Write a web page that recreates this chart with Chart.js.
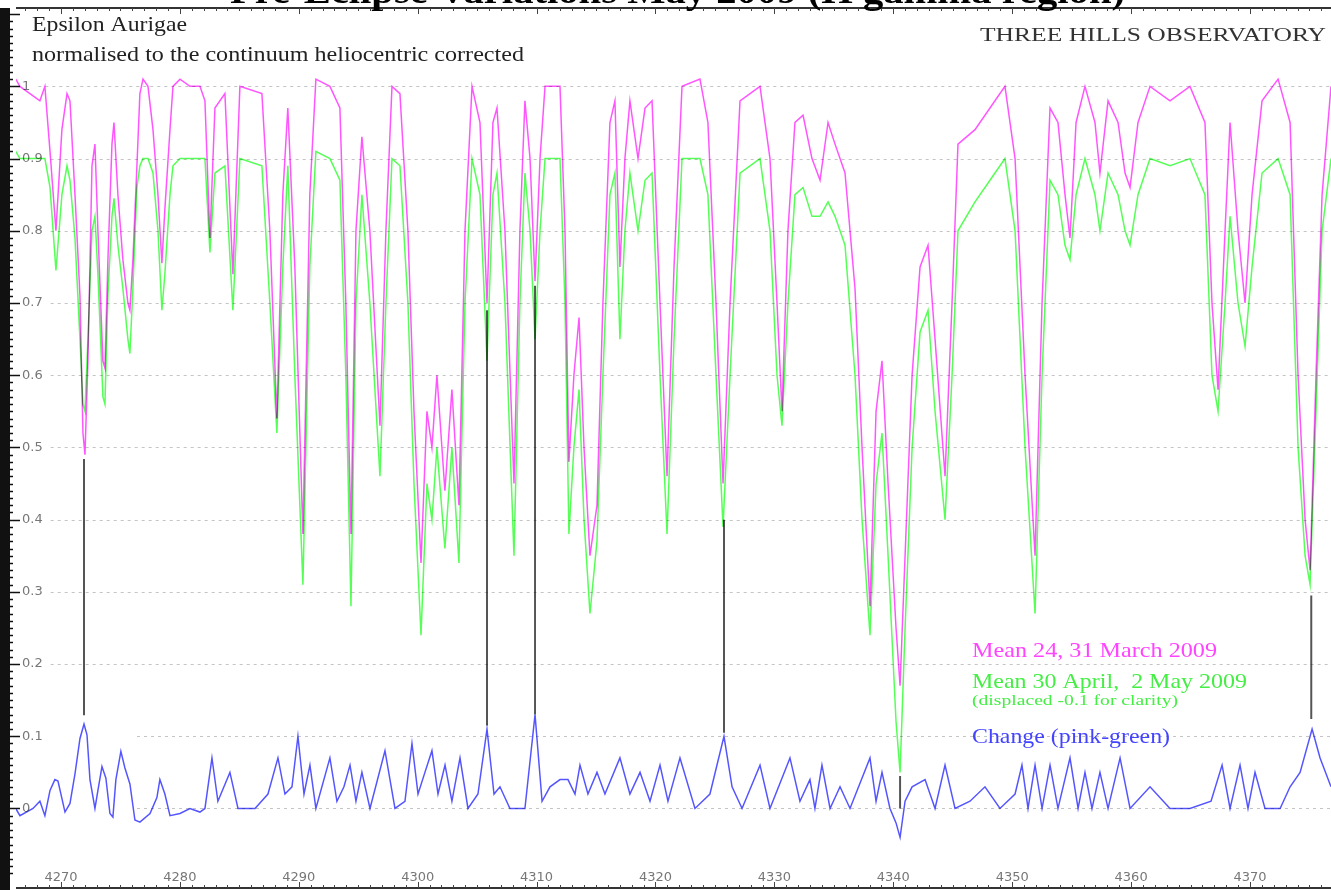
<!DOCTYPE html>
<html>
<head>
<meta charset="utf-8">
<title>Epsilon Aurigae H gamma</title>
<script src="https://cdn.jsdelivr.net/npm/chart.js@4.4.0/dist/chart.umd.min.js"></script>
<style>
  html, body { margin: 0; padding: 0; background: #fff; overflow: hidden; }
  #wrap { width: 1331px; height: 890px; position: relative; }
</style>
</head>
<body>
<div id="wrap"><canvas id="myChart"></canvas></div>
<script>
// ---- data ----
var titleText = 'Pre-Eclipse Variations May 2009 (H gamma region)';
var xTickValues = [4270, 4280, 4290, 4300, 4310, 4320, 4330, 4340, 4350, 4360, 4370];
var yTickValues = [0, 0.1, 0.2, 0.3, 0.4, 0.5, 0.6, 0.7, 0.8, 0.9, 1];

// [wavelength, flux] mean 24, 31 March 2009
var pinkPoints = [
  [4266.2,1.01],[4266.55,1.0],[4268.23,0.98],[4268.65,1.0],[4269.08,0.91],[4269.58,0.80],[4270.08,0.94],[4270.51,0.99],
  [4270.76,0.98],[4271.18,0.85],[4271.60,0.71],[4271.85,0.52],[4272.02,0.49],[4272.27,0.62],[4272.61,0.89],[4272.86,0.92],
  [4273.11,0.80],[4273.53,0.62],[4273.70,0.61],[4273.95,0.76],[4274.29,0.92],[4274.46,0.95],[4274.79,0.85],[4275.21,0.76],
  [4275.63,0.70],[4275.80,0.69],[4276.05,0.76],[4276.39,0.89],[4276.64,0.99],[4276.90,1.01],[4277.32,1.0],[4277.74,0.94],
  [4278.16,0.85],[4278.49,0.755],[4278.74,0.83],[4279.17,0.94],[4279.42,1.0],[4280.01,1.01],[4280.85,1.0],[4281.69,1.0],
  [4282.11,0.98],[4282.53,0.79],[4282.95,0.97],[4283.79,0.99],[4284.46,0.74],[4285.05,1.0],[4286.90,0.99],[4287.57,0.8],
  [4288.16,0.54],[4288.66,0.85],[4289.08,0.97],[4289.67,0.75],[4290.35,0.38],[4290.93,0.85],[4291.44,1.01],[4292.62,1.0],
  [4293.46,0.97],[4293.96,0.7],[4294.39,0.38],[4294.81,0.8],[4295.31,0.93],[4295.98,0.8],[4296.83,0.53],[4297.33,0.8],
  [4297.84,1.0],[4298.51,0.99],[4299.18,0.8],[4299.69,0.55],[4300.28,0.34],[4300.78,0.55],[4301.20,0.5],[4301.62,0.6],
  [4302.29,0.44],[4302.88,0.58],[4303.47,0.42],[4303.98,0.8],[4304.57,1.0],[4305.24,0.95],[4305.83,0.70],[4306.33,0.95],
  [4306.67,0.97],[4307.34,0.8],[4308.10,0.45],[4308.60,0.8],[4309.02,0.98],[4309.45,0.9],[4309.87,0.73],[4310.29,0.9],
  [4310.71,1.0],[4311.97,1.0],[4312.39,0.8],[4312.72,0.48],[4313.14,0.6],[4313.57,0.68],[4313.99,0.5],[4314.49,0.35],
  [4315.08,0.42],[4315.58,0.7],[4316.17,0.95],[4316.59,0.98],[4317.01,0.75],[4317.43,0.9],[4317.85,0.98],[4318.53,0.9],
  [4319.12,0.97],[4319.71,0.98],[4320.38,0.7],[4320.97,0.46],[4321.56,0.75],[4322.23,1.0],[4323.74,1.01],[4324.41,0.95],
  [4325.09,0.7],[4325.68,0.45],[4326.27,0.7],[4327.11,0.98],[4328.79,1.0],[4329.63,0.9],[4330.22,0.7],[4330.64,0.55],
  [4331.14,0.8],[4331.73,0.95],[4332.41,0.96],[4333.16,0.9],[4333.84,0.87],[4334.51,0.95],[4335.10,0.92],[4335.94,0.88],
  [4336.78,0.72],[4337.37,0.5],[4338.04,0.28],[4338.55,0.55],[4339.05,0.62],[4339.56,0.45],[4340.23,0.25],[4340.57,0.17],
  [4340.99,0.35],[4341.58,0.6],[4342.25,0.75],[4342.92,0.78],[4343.51,0.65],[4344.35,0.46],[4344.94,0.7],[4345.44,0.92],
  [4346.87,0.94],[4348.13,0.97],[4349.39,1.0],[4350.24,0.9],[4351.08,0.6],[4351.92,0.35],[4352.51,0.7],[4353.18,0.97],
  [4353.85,0.95],[4354.44,0.85],[4354.86,0.79],[4355.37,0.95],[4356.12,1.0],[4356.96,0.95],[4357.38,0.88],[4358.06,0.98],
  [4358.90,0.95],[4359.49,0.88],[4359.91,0.86],[4360.58,0.95],[4361.59,1.0],[4363.27,0.98],[4364.95,1.0],[4366.21,0.95],
  [4366.80,0.7],[4367.31,0.58],[4367.90,0.8],[4368.32,0.95],[4368.99,0.8],[4369.58,0.7],[4370.17,0.85],[4371.01,0.98],
  [4372.36,1.01],[4373.37,0.95],[4374.04,0.6],[4374.63,0.4],[4375.05,0.33],[4375.55,0.6],[4376.06,0.85],[4376.81,1.0]
];

// [wavelength, flux] mean 30 April, 2 May 2009 (already displaced -0.1 in the plot)
var greenPoints = [
  [4266.2,0.91],[4266.55,0.90],[4268.23,0.90],[4268.65,0.90],[4269.08,0.86],[4269.58,0.745],[4270.08,0.85],[4270.51,0.89],
  [4270.76,0.87],[4271.18,0.79],[4271.60,0.65],[4271.85,0.56],[4272.02,0.55],[4272.27,0.65],[4272.61,0.80],[4272.86,0.82],
  [4273.11,0.74],[4273.53,0.57],[4273.70,0.56],[4273.95,0.71],[4274.29,0.82],[4274.46,0.845],[4274.79,0.78],[4275.21,0.72],
  [4275.63,0.65],[4275.80,0.63],[4276.05,0.72],[4276.39,0.86],[4276.64,0.89],[4276.90,0.90],[4277.32,0.90],[4277.74,0.88],
  [4278.16,0.80],[4278.49,0.69],[4278.74,0.74],[4279.17,0.85],[4279.42,0.89],[4280.01,0.90],[4280.85,0.90],[4281.69,0.90],
  [4282.11,0.9],[4282.53,0.77],[4282.95,0.88],[4283.79,0.89],[4284.46,0.69],[4285.05,0.9],[4286.90,0.89],[4287.57,0.7],
  [4288.16,0.52],[4288.66,0.75],[4289.08,0.89],[4289.67,0.6],[4290.35,0.31],[4290.93,0.75],[4291.44,0.91],[4292.62,0.9],
  [4293.46,0.87],[4293.96,0.6],[4294.39,0.28],[4294.81,0.7],[4295.31,0.85],[4295.98,0.7],[4296.83,0.46],[4297.33,0.7],
  [4297.84,0.9],[4298.51,0.89],[4299.18,0.7],[4299.69,0.45],[4300.28,0.24],[4300.78,0.45],[4301.20,0.4],[4301.62,0.5],
  [4302.29,0.36],[4302.88,0.5],[4303.47,0.34],[4303.98,0.7],[4304.57,0.9],[4305.24,0.85],[4305.83,0.62],[4306.33,0.85],
  [4306.67,0.88],[4307.34,0.7],[4308.10,0.35],[4308.60,0.7],[4309.02,0.88],[4309.45,0.8],[4309.87,0.65],[4310.29,0.8],
  [4310.71,0.9],[4311.97,0.9],[4312.39,0.7],[4312.72,0.38],[4313.14,0.5],[4313.57,0.58],[4313.99,0.4],[4314.49,0.27],
  [4315.08,0.37],[4315.58,0.6],[4316.17,0.85],[4316.59,0.88],[4317.01,0.65],[4317.43,0.8],[4317.85,0.88],[4318.53,0.8],
  [4319.12,0.87],[4319.71,0.88],[4320.38,0.6],[4320.97,0.38],[4321.56,0.65],[4322.23,0.9],[4323.74,0.9],[4324.41,0.85],
  [4325.09,0.6],[4325.68,0.39],[4326.27,0.6],[4327.11,0.88],[4328.79,0.9],[4329.63,0.8],[4330.22,0.6],[4330.64,0.53],
  [4331.14,0.7],[4331.73,0.85],[4332.41,0.86],[4333.16,0.82],[4333.84,0.82],[4334.51,0.84],[4335.10,0.82],[4335.94,0.78],
  [4336.78,0.6],[4337.37,0.4],[4338.04,0.24],[4338.55,0.45],[4339.05,0.52],[4339.56,0.35],[4340.23,0.12],[4340.57,0.05],
  [4340.99,0.25],[4341.58,0.5],[4342.25,0.66],[4342.92,0.69],[4343.51,0.55],[4344.35,0.40],[4344.94,0.6],[4345.44,0.8],
  [4346.87,0.84],[4348.13,0.87],[4349.39,0.9],[4350.24,0.8],[4351.08,0.5],[4351.92,0.27],[4352.51,0.6],[4353.18,0.87],
  [4353.85,0.85],[4354.44,0.78],[4354.86,0.76],[4355.37,0.85],[4356.12,0.9],[4356.96,0.85],[4357.38,0.8],[4358.06,0.88],
  [4358.90,0.85],[4359.49,0.8],[4359.91,0.78],[4360.58,0.85],[4361.59,0.9],[4363.27,0.89],[4364.95,0.9],[4366.21,0.85],
  [4366.80,0.6],[4367.31,0.55],[4367.90,0.7],[4368.32,0.82],[4368.99,0.7],[4369.58,0.64],[4370.17,0.75],[4371.01,0.88],
  [4372.36,0.9],[4373.37,0.85],[4374.04,0.5],[4374.63,0.35],[4375.05,0.31],[4375.55,0.55],[4376.06,0.8],[4376.81,0.9]
];

// [wavelength, change] pink minus green
var changePoints = [
  [4266.2,0.0],[4266.55,-0.01],[4267.65,0.0],[4268.23,0.01],[4268.65,-0.01],[4269.08,0.025],[4269.49,0.04],[4269.75,0.038],
  [4270.34,-0.005],[4270.76,0.007],[4271.18,0.048],[4271.60,0.097],[4271.94,0.117],[4272.19,0.102],[4272.44,0.04],[4272.86,0.0],
  [4273.11,0.025],[4273.45,0.058],[4273.78,0.042],[4274.12,-0.007],[4274.37,-0.012],[4274.62,0.04],[4275.04,0.079],[4275.38,0.056],
  [4275.80,0.034],[4276.22,-0.016],[4276.64,-0.019],[4277.49,-0.007],[4278.07,0.015],[4278.32,0.04],[4278.74,0.02],[4279.17,-0.01],
  [4280.01,-0.007],[4280.85,0.0],[4281.69,-0.005],[4282.11,0.0],[4282.70,0.07],[4283.20,0.01],[4284.21,0.05],[4284.89,0.0],
  [4286.32,0.0],[4287.41,0.02],[4288.25,0.07],[4288.84,0.02],[4289.43,0.03],[4289.93,0.10],[4290.44,0.02],[4290.94,0.06],
  [4291.44,0.0],[4292.62,0.07],[4293.21,0.01],[4293.80,0.03],[4294.31,0.06],[4294.81,0.01],[4295.31,0.05],[4295.99,0.0],
  [4297.25,0.08],[4298.09,0.0],[4298.93,0.01],[4299.52,0.09],[4300.03,0.02],[4300.61,0.05],[4301.20,0.08],[4301.71,0.02],
  [4302.30,0.06],[4302.88,0.01],[4303.56,0.07],[4304.23,0.0],[4305.07,0.02],[4305.83,0.11],[4306.42,0.02],[4306.92,0.03],
  [4307.76,0.0],[4309.02,0.0],[4309.87,0.13],[4310.46,0.01],[4311.13,0.03],[4311.97,0.04],[4312.64,0.04],[4313.23,0.02],
  [4313.65,0.06],[4314.32,0.02],[4315.08,0.05],[4315.75,0.02],[4317.01,0.07],[4317.85,0.02],[4318.70,0.05],[4319.54,0.01],
  [4320.38,0.06],[4321.05,0.01],[4322.06,0.07],[4323.32,0.0],[4324.58,0.02],[4325.76,0.10],[4326.44,0.03],[4327.28,0.0],
  [4328.79,0.06],[4329.63,0.0],[4331.31,0.07],[4332.15,0.01],[4332.99,0.04],[4333.41,0.0],[4334.00,0.06],[4334.68,0.0],
  [4335.52,0.03],[4336.36,0.0],[4338.04,0.07],[4338.55,0.01],[4339.05,0.05],[4339.72,0.0],[4340.23,-0.02],[4340.57,-0.04],
  [4340.99,0.01],[4341.58,0.03],[4342.67,0.04],[4343.51,0.0],[4344.35,0.06],[4345.19,0.0],[4346.45,0.01],[4347.71,0.03],
  [4348.97,0.0],[4350.24,0.02],[4350.82,0.06],[4351.33,0.0],[4351.92,0.06],[4352.51,0.0],[4353.18,0.06],[4353.85,0.0],
  [4354.86,0.07],[4355.54,0.0],[4356.12,0.05],[4356.71,0.0],[4357.38,0.05],[4358.06,0.0],[4359.07,0.07],[4359.91,0.0],
  [4361.59,0.03],[4363.27,0.0],[4364.95,0.0],[4366.72,0.01],[4367.65,0.06],[4368.32,0.0],[4369.16,0.06],[4369.83,0.0],
  [4370.42,0.05],[4371.26,0.0],[4372.53,0.0],[4373.37,0.03],[4374.21,0.05],[4375.22,0.11],[4375.89,0.07],[4376.81,0.03]
];

// tie lines from a line in the spectra down to its peak in the change curve
var markerWave = [4271.94, 4305.83, 4309.87, 4325.76, 4340.57, 4375.15];
var markerTop = [0.484, 0.69, 0.724, 0.40, 0.045, 0.295];
var markerBottom = [0.129, 0.115, 0.13, 0.105, 0.0, 0.124];

var xMin = 4266.22, xMax = 4376.81;
var yMin = -0.0938, yMax = 1.1005;

function toXY(list) {
  return list.map(function(p) { return {x: p[0], y: p[1]}; });
}

function fmtY(v) {
  if (Math.abs(v) < 1e-9) return '0';
  if (Math.abs(v - 1) < 1e-9) return '1';
  return v.toFixed(1);
}

// text squeezed/stretched to the width it has in the original
function fitText(ctx, text, x, base, width, font, color) {
  ctx.save();
  ctx.font = font;
  ctx.fillStyle = color;
  ctx.textAlign = 'left';
  ctx.textBaseline = 'alphabetic';
  var w = ctx.measureText(text).width;
  ctx.translate(x, base);
  ctx.scale(width / w, 1);
  ctx.fillText(text, 0, 0);
  ctx.restore();
}

var markerData = [];
for (var i = 0; i < markerWave.length; i++) {
  markerData.push({x: markerWave[i], y: markerTop[i]});
  markerData.push({x: markerWave[i], y: markerBottom[i]});
  markerData.push({x: markerWave[i], y: null});
}

var framePlugin = {
  id: 'frame',
  beforeDatasetsDraw: function(chart) {
    var ctx = chart.ctx, a = chart.chartArea, ys = chart.scales.y;
    ctx.save();
    ctx.strokeStyle = '#c4c4c4';
    ctx.lineWidth = 1;
    ctx.setLineDash([3, 4]);
    ctx.font = '13px "DejaVu Sans"';
    yTickValues.forEach(function(v) {
      var py = Math.round(ys.getPixelForValue(v)) + 0.5;
      var start = v < 0.15 ? 137 : 22 + ctx.measureText(fmtY(v)).width + 8;
      ctx.beginPath();
      ctx.moveTo(start, py);
      ctx.lineTo(a.right, py);
      ctx.stroke();
    });
    ctx.restore();
    // overlapping pink and green turn grey, as in the original
    ctx.globalCompositeOperation = 'multiply';
  },
  afterDatasetsDraw: function(chart) {
    chart.ctx.globalCompositeOperation = 'source-over';
  },
  afterDraw: function(chart) {
    var ctx = chart.ctx, a = chart.chartArea, xs = chart.scales.x, ys = chart.scales.y;
    ctx.save();
    ctx.strokeStyle = '#333';
    ctx.lineWidth = 2;
    ctx.beginPath();
    ctx.moveTo(a.left, 8); ctx.lineTo(a.right, 8);
    ctx.moveTo(a.left, 888); ctx.lineTo(a.right, 888);
    ctx.stroke();
    ctx.lineWidth = 1;
    ctx.strokeStyle = '#444';
    for (var w = 4267; w <= 4376; w++) {
      var px = Math.round(xs.getPixelForValue(w)) + 0.5;
      var len = (w % 10 === 0) ? 6 : 3;
      ctx.beginPath();
      ctx.moveTo(px, 8); ctx.lineTo(px, 8 + len);
      ctx.moveTo(px, 888); ctx.lineTo(px, 888 - len);
      ctx.stroke();
    }
    // left ruler
    ctx.fillStyle = '#111';
    ctx.fillRect(0, 8, 10, 882);
    ctx.strokeStyle = '#111';
    ctx.lineWidth = 1.5;
    for (var k = -9; k <= 110; k++) {
      var py = Math.round(ys.getPixelForValue(k / 100)) + 0.5;
      ctx.beginPath();
      ctx.moveTo(10, py);
      ctx.lineTo(k % 10 === 0 ? 20 : 13, py);
      ctx.stroke();
    }
    ctx.restore();

    // texts
    fitText(ctx, titleText, 230, 3, 895, 'bold 36px "Liberation Serif"', '#000');
    fitText(ctx, 'Epsilon Aurigae', 32, 31, 155, '21px "Liberation Serif"', '#222');
    fitText(ctx, 'normalised to the continuum heliocentric corrected', 32, 61, 492, '21px "Liberation Serif"', '#222');
    fitText(ctx, 'THREE HILLS OBSERVATORY', 980, 41, 346, '19px "Liberation Serif"', '#333');
    fitText(ctx, 'Mean 24, 31 March 2009', 972, 657, 245, '21px "Liberation Serif"', '#ff44ff');
    fitText(ctx, 'Mean 30 April,  2 May 2009', 972, 688, 275, '21px "Liberation Serif"', '#44ee44');
    fitText(ctx, '(displaced -0.1 for clarity)', 972, 705, 206, '15px "Liberation Serif"', '#44ee44');
    fitText(ctx, 'Change (pink-green)', 972, 743, 198, '21px "Liberation Serif"', '#4444ff');
  }
};

var ctx = document.getElementById('myChart').getContext('2d');
var myChart = new Chart(ctx, {
  type: 'line',
  data: {
    datasets: [
      {label: 'Mean 24, 31 March 2009', data: toXY(pinkPoints), borderColor: '#ff55ff', borderWidth: 1.5},
      {label: 'Mean 30 April, 2 May 2009', data: toXY(greenPoints), borderColor: '#55ff55', borderWidth: 1.5},
      {label: 'Change (pink-green)', data: toXY(changePoints), borderColor: '#5555ff', borderWidth: 1.5},
      {label: 'ties', data: markerData, borderColor: '#555', borderWidth: 2, spanGaps: false}
    ]
  },
  options: {
    responsive: true,
    maintainAspectRatio: false,
    devicePixelRatio: 1,
    animation: false,
    elements: {point: {radius: 0}, line: {tension: 0}},
    layout: {padding: {left: 16, top: 8, right: 0, bottom: 3}},
    plugins: {legend: {display: false}, tooltip: {enabled: false}, title: {display: false}},
    scales: {
      x: {
        type: 'linear', min: xMin, max: xMax,
        afterFit: function(s) { s.height = 0; },
        afterBuildTicks: function(s) { s.ticks = xTickValues.map(function(v) { return {value: v}; }); },
        grid: {display: false}, border: {display: false},
        ticks: {mirror: true, padding: -9, color: '#777', autoSkip: false, maxRotation: 0, minRotation: 0,
                font: {family: 'DejaVu Sans', size: 13},
                callback: function(v) { return String(v); }}
      },
      y: {
        type: 'linear', min: yMin, max: yMax,
        afterFit: function(s) { s.width = 0; },
        afterBuildTicks: function(s) { s.ticks = yTickValues.map(function(v) { return {value: v}; }); },
        grid: {display: false}, border: {display: false},
        ticks: {mirror: true, padding: 6, color: '#777', autoSkip: false,
                font: {family: 'DejaVu Sans', size: 13},
                callback: function(v) { return fmtY(v); }}
      }
    }
  },
  plugins: [framePlugin]
});
</script>
</body>
</html>
